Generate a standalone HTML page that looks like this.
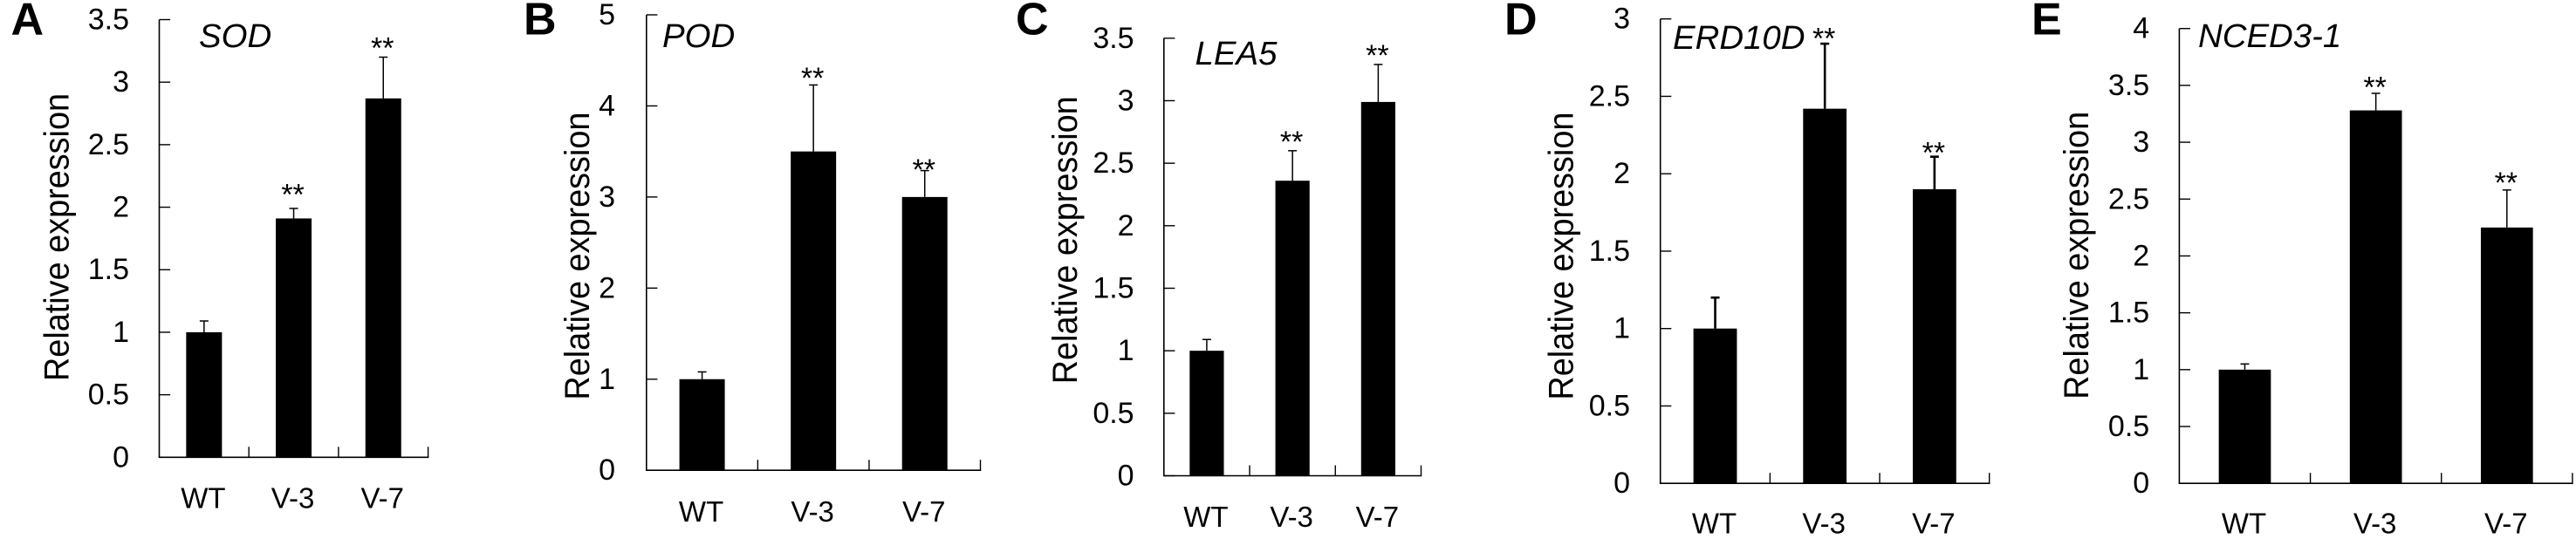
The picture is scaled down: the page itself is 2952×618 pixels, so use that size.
<!DOCTYPE html>
<html lang="en">
<head>
<meta charset="utf-8">
<title>Relative expression of stress-related genes</title>
<style>
  html, body { margin: 0; padding: 0; background: #fff; }
  svg { display: block; font-family: "Liberation Sans", Arial, sans-serif; }
</style>
</head>
<body>
<svg id="figure" xmlns="http://www.w3.org/2000/svg" width="2952" height="618" viewBox="0 0 2952 618"></svg>
<script>
const categories = ['WT', 'V-3', 'V-7'];

const sodValues = [1, 1.91, 2.87];
const sodErrorTops = [1.09, 1.99, 3.2];
const sodStarLevels = [null, 2.14, 3.31];
const sodTicks = [0, 0.5, 1, 1.5, 2, 2.5, 3, 3.5];

const podValues = [1, 3.5, 3];
const podErrorTops = [1.08, 4.23, 3.29];
const podStarLevels = [null, 4.36, 3.355];
const podTicks = [0, 1, 2, 3, 4, 5];

const lea5Values = [1, 2.36, 2.99];
const lea5ErrorTops = [1.09, 2.6, 3.29];
const lea5StarLevels = [null, 2.71, 3.4];
const lea5Ticks = [0, 0.5, 1, 1.5, 2, 2.5, 3, 3.5];

const erd10dValues = [1, 2.42, 1.9];
const erd10dErrorTops = [1.2, 2.84, 2.11];
const erd10dStarLevels = [null, 2.905, 2.167];
const erd10dTicks = [0, 0.5, 1, 1.5, 2, 2.5, 3];

const nced3Values = [1, 3.28, 2.25];
const nced3ErrorTops = [1.05, 3.43, 2.58];
const nced3StarLevels = [null, 3.525, 2.688];
const nced3Ticks = [0, 0.5, 1, 1.5, 2, 2.5, 3, 3.5, 4];

const SVG_NS = 'http://www.w3.org/2000/svg';
const figure = document.getElementById('figure');

function makeLine(parent, x1, y1, x2, y2, width) {
  const l = document.createElementNS(SVG_NS, 'line');
  l.setAttribute('x1', x1);
  l.setAttribute('y1', y1);
  l.setAttribute('x2', x2);
  l.setAttribute('y2', y2);
  l.setAttribute('stroke', '#000');
  l.setAttribute('stroke-width', width);
  parent.appendChild(l);
  return l;
}

function makeText(parent, x, y, content, size, anchor) {
  const t = document.createElementNS(SVG_NS, 'text');
  t.setAttribute('x', x);
  t.setAttribute('y', y);
  t.setAttribute('font-size', size);
  t.setAttribute('text-anchor', anchor);
  t.setAttribute('fill', '#000');
  t.textContent = content;
  parent.appendChild(t);
  return t;
}

function drawPanel(o) {
  const group = document.createElementNS(SVG_NS, 'g');
  
  
  figure.appendChild(group);

  const maxTick = o.ticks[o.ticks.length - 1];
  const yScale = v => o.base - (v / maxTick) * (o.base - o.top);
  const band = (o.right - o.left) / categories.length;
  const xCenter = i => o.left + band * (i + 0.5);

  const letter = makeText(group, o.letterX, 39.5, o.letter, 52, 'start');
  letter.setAttribute('font-weight', '700');
  
  

  const title = makeText(group, o.titleX - 1, o.titleY + 1, o.title, 38.4, 'start');
  title.setAttribute('font-style', 'italic');
  
  

  const yTitle = makeText(group, 0, 0, 'Relative expression', 40, 'middle');
  yTitle.setAttribute('textLength', '330');
  yTitle.setAttribute('lengthAdjust', 'spacingAndGlyphs');
  yTitle.setAttribute('transform', 'translate(' + o.yTitleX + ' ' + o.yTitleY + ') rotate(-90)');
  
  

  const yAxis = makeLine(group, o.left, o.top, o.left, o.base, 1.6);
  
  

  const xAxis = makeLine(group, o.left - 0.8, o.base, o.right + 0.8, o.base, 1.6);
  
  

  o.ticks.forEach(v => {
    const tick = makeLine(group, o.left, yScale(v), o.left + 12.6, yScale(v), 1.4);
    
    
    const label = makeText(group, o.labelRight + 1, yScale(v) + 11, String(v), 34, 'end');
    
    
  });

  categories.forEach((name, i) => {
    const xt = o.left + band * (i + 1);
    const tick = makeLine(group, xt, o.base, xt, o.base - 12, 1.4);
    
    

    const cx = xCenter(i);
    const bar = document.createElementNS(SVG_NS, 'rect');
    bar.setAttribute('x', cx - o.barW / 2);
    bar.setAttribute('y', yScale(o.values[i]));
    bar.setAttribute('width', o.barW);
    bar.setAttribute('height', o.base - yScale(o.values[i]));
    bar.setAttribute('fill', '#000');
    
    
    group.appendChild(bar);

    const stem = makeLine(group, cx, yScale(o.values[i]), cx, yScale(o.errors[i]), o.errW);
    
    
    const cap = makeLine(group, cx - 5, yScale(o.errors[i]), cx + 5, yScale(o.errors[i]), o.errW);
    
    

    if (o.stars[i] !== null) {
      const star = makeText(group, cx - 1, yScale(o.stars[i]) + 17, '**', 34, 'middle');
      
      
    }

    const xLabel = makeText(group, cx - 1, o.xLabelY, name, 33, 'middle');
    
    
  });
}

drawPanel({ letter: 'A', letterX: 12.5, title: 'SOD', titleX: 229, titleY: 53.2,
  left: 182.5, right: 490.6, top: 22.5, base: 524.3, barW: 41, errW: 1.5,
  labelRight: 147, yTitleX: 78.5, yTitleY: 272, xLabelY: 582.6,
  values: sodValues, errors: sodErrorTops, stars: sodStarLevels, ticks: sodTicks });

drawPanel({ letter: 'B', letterX: 600, title: 'POD', titleX: 760, titleY: 53.2,
  left: 740.8, right: 1123.5, top: 17, base: 539.2, barW: 52, errW: 1.5,
  labelRight: 704, yTitleX: 675, yTitleY: 293.6, xLabelY: 598,
  values: podValues, errors: podErrorTops, stars: podStarLevels, ticks: podTicks });

drawPanel({ letter: 'C', letterX: 1164, title: 'LEA5', titleX: 1370.5, titleY: 72.9,
  left: 1333.8, right: 1628.5, top: 43.8, base: 545.5, barW: 39.2, errW: 1.5,
  labelRight: 1298.6, yTitleX: 1233.9, yTitleY: 275.3, xLabelY: 603.9,
  values: lea5Values, errors: lea5ErrorTops, stars: lea5StarLevels, ticks: lea5Ticks });

drawPanel({ letter: 'D', letterX: 1724, title: 'ERD10D', titleX: 1918, titleY: 55.2,
  left: 1902.7, right: 2279.7, top: 21.7, base: 554.2, barW: 49.8, errW: 2.6,
  labelRight: 1867, yTitleX: 1802.4, yTitleY: 293.6, xLabelY: 611.7,
  values: erd10dValues, errors: erd10dErrorTops, stars: erd10dStarLevels, ticks: erd10dTicks });

drawPanel({ letter: 'E', letterX: 2328, title: 'NCED3-1', titleX: 2520, titleY: 53.2,
  left: 2497.4, right: 2947.9, top: 32.7, base: 554.2, barW: 59.7, errW: 1.5,
  labelRight: 2462.2, yTitleX: 2393, yTitleY: 292.9, xLabelY: 611.7,
  values: nced3Values, errors: nced3ErrorTops, stars: nced3StarLevels, ticks: nced3Ticks });
</script>
</body>
</html>
